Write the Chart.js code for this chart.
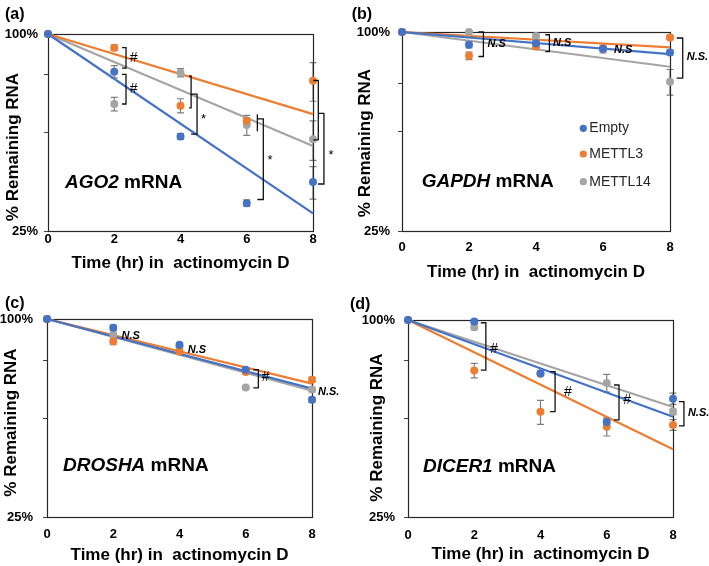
<!DOCTYPE html>
<html><head><meta charset="utf-8">
<script src="https://cdn.jsdelivr.net/npm/chart.js@4/dist/chart.umd.min.js"></script>
<style>
html,body{margin:0;padding:0;background:#fff;}
#wrap{position:relative;width:709px;height:566px;overflow:hidden;background:#fff;}
canvas{position:absolute;display:block;}
</style></head><body>
<div id="wrap">
<canvas id="ca" width="345" height="283" style="left:0;top:0"></canvas>
<canvas id="cb" width="364" height="283" style="left:345px;top:0"></canvas>
<canvas id="cc" width="345" height="283" style="left:0;top:283px"></canvas>
<canvas id="cd" width="364" height="283" style="left:345px;top:283px"></canvas>
</div>
<script>
// ---------- data ----------
const times = [0, 2, 4, 6, 8];
const xTicks = [0, 2, 4, 6, 8];
const seriesNames = ['Empty', 'METTL3', 'METTL14'];
const yTicksStd = [25, 50, 75, 100];
const yTicksGapdh = [25, 50, 70, 100];
const yLabelled = [25, 100];
const xTitle = 'Time (hr) in  actinomycin D';
const yTitle = '% Remaining RNA';

// (a) AGO2
const ago2Empty   = [100, 76.7, 48.6, 30.4, 35.3];
const ago2Mettl3  = [100, 90.8, 60.4, 54.3, 72.0];
const ago2Mettl14 = [100, 61.1, 76.2, 52.7, 47.7];
const ago2EmptyErr   = [0, 3.3, 1.0, 0.7, 4.0];
const ago2Mettl3Err  = [0, 1.9, 3.0, 1.0, 9.7];
const ago2Mettl14Err = [0, 2.9, 2.2, 3.7, 6.6];
const ago2TrendStart = [100, 100, 100];
const ago2TrendEnd   = [28.3, 56.9, 45.5];

// (b) GAPDH
const gapdhEmpty   = [100, 91.5, 92.5, 89.0, 86.7];
const gapdhMettl3  = [100, 84.7, 90.4, 89.5, 96.3];
const gapdhMettl14 = [100, 100, 97.3, 88.4, 70.7];
const gapdhEmptyErr   = [0, 2.0, 1.0, 1.0, 1.5];
const gapdhMettl3Err  = [0, 2.2, 1.5, 1.0, 1.5];
const gapdhMettl14Err = [0, 0.8, 0.8, 2.0, 6.3];
const gapdhTrendStart = [100, 100, 100];
const gapdhTrendEnd   = [85.7, 89.8, 78.5];

// (c) DROSHA
const droshaEmpty   = [100, 94.0, 83.5, 70.1, 56.8];
const droshaMettl3  = [100, 85.5, 79.7, 69.0, 65.4];
const droshaMettl14 = [100, 89.6, 82.2, 61.9, 61.0];
const droshaEmptyErr   = [0, 1.8, 1.0, 1.0, 1.0];
const droshaMettl3Err  = [0, 2.0, 1.5, 1.0, 1.2];
const droshaMettl14Err = [0, 1.0, 1.5, 0.5, 1.0];
const droshaTrendStart = [100, 100, 100];
const droshaTrendEnd   = [61.4, 63.6, 60.5];

// (d) DICER1
const dicerEmpty   = [100, 99.0, 68.8, 48.8, 57.5];
const dicerMettl3  = [100, 70.1, 52.4, 47.2, 47.8];
const dicerMettl14 = [100, 95.0, 68.4, 64.2, 52.4];
const dicerEmptyErr   = [0, 1.0, 1.0, 1.0, 2.3];
const dicerMettl3Err  = [0, 3.6, 4.4, 3.0, 1.8];
const dicerMettl14Err = [0, 1.5, 1.0, 4.0, 1.0];
const dicerTrendStart = [100, 100, 100];
const dicerTrendEnd   = [50.6, 40.3, 54.2];

// ---------- styles / layout ----------
const colors = ['#4472C4', '#ED7D31', '#A5A5A5'];
const FONT = "'Liberation Sans', Arial, Helvetica, sans-serif";
Chart.defaults.font.family = FONT;

const panels = [
  { id:'ca', W:345, H:283, area:{l:48,t:34,r:313,b:231},
    values:[ago2Empty, ago2Mettl3, ago2Mettl14], errors:[ago2EmptyErr, ago2Mettl3Err, ago2Mettl14Err],
    trendStart:ago2TrendStart, trendEnd:ago2TrendEnd, yTicks:yTicksStd,
    xTickPad:1, xTitlePad:9, yTickPad:6,
    label:{text:'(a)', x:5, y:15}, gene:{it:'AGO2', rest:' mRNA', x:65, y:183}, yT:{x:13, y:147},
    brackets:[
      {x:2.355, y1:90.8, y2:78.6, tick:4}, {x:2.355, y1:75.3, y2:61.1, tick:4},
      {x:4.32, y1:74.4, y2:59.5, tick:2}, {x:4.5, y1:65.5, y2:49.4, tick:6},
      {x:6.32, y1:56.9, y2:50.4, tick:0}, {x:6.5, y1:55.0, y2:31.2, tick:6},
      {x:8.16, y1:72.1, y2:47.5, tick:5}, {x:8.33, y1:57.2, y2:34.8, tick:6}
    ],
    notes:[
      {t:'#', x:2.47, y:84.3, kind:'hash'}, {t:'#', x:2.47, y:67.9, kind:'hash'},
      {t:'*', x:4.62, y:55.9, kind:'star'}, {t:'*', x:6.63, y:41.9, kind:'star'}, {t:'*', x:8.47, y:43.4, kind:'star'}
    ], legend:null },
  { id:'cb', W:364, H:283, area:{l:57,t:32,r:325,b:231},
    values:[gapdhEmpty, gapdhMettl3, gapdhMettl14], errors:[gapdhEmptyErr, gapdhMettl3Err, gapdhMettl14Err],
    trendStart:gapdhTrendStart, trendEnd:gapdhTrendEnd, yTicks:yTicksGapdh,
    xTickPad:9, xTitlePad:0, yTickPad:8,
    label:{text:'(b)', x:6.7, y:15}, gene:{it:'GAPDH', rest:' mRNA', x:76.7, y:182}, yT:{x:20.8, y:143},
    brackets:[
      {x:2.43, y1:100, y2:84.3, tick:5}, {x:4.4, y1:98.1, y2:87.3, tick:4},
      {x:8.38, y1:95.9, y2:72.5, tick:6}
    ],
    notes:[
      {t:'N.S', x:2.55, y:92.1, kind:'ns'}, {t:'N.S', x:4.51, y:92.8, kind:'ns'},
      {t:'N.S', x:6.33, y:88.4, kind:'ns'}, {t:'N.S.', x:8.5, y:84.0, kind:'ns'}
    ],
    legend:{dotX:238.3, textX:244.3, ys:[128.3, 154, 181.7]} },
  { id:'cc', W:345, H:283, area:{l:47,t:36,r:312,b:234},
    values:[droshaEmpty, droshaMettl3, droshaMettl14], errors:[droshaEmptyErr, droshaMettl3Err, droshaMettl14Err],
    trendStart:droshaTrendStart, trendEnd:droshaTrendEnd, yTicks:yTicksStd,
    xTickPad:10, xTitlePad:0, yTickPad:10,
    label:{text:'(c)', x:5, y:20.5}, gene:{it:'DROSHA', rest:' mRNA', x:63, y:183}, yT:{x:11, y:139.5},
    brackets:[ {x:6.38, y1:70.1, y2:61.7, tick:5} ],
    notes:[
      {t:'N.S', x:2.25, y:88.5, kind:'ns'}, {t:'N.S', x:4.25, y:80.6, kind:'ns'},
      {t:'#', x:6.48, y:66.5, kind:'hash'}, {t:'N.S.', x:8.18, y:60.2, kind:'ns'}
    ], legend:null },
  { id:'cd', W:364, H:283, area:{l:63,t:37,r:328,b:234},
    values:[dicerEmpty, dicerMettl3, dicerMettl14], errors:[dicerEmptyErr, dicerMettl3Err, dicerMettl14Err],
    trendStart:dicerTrendStart, trendEnd:dicerTrendEnd, yTicks:yTicksStd,
    xTickPad:11, xTitlePad:1, yTickPad:9,
    label:{text:'(d)', x:5, y:22}, gene:{it:'DICER1', rest:' mRNA', x:78, y:184}, yT:{x:32.3, y:144.5},
    brackets:[
      {x:2.35, y1:98.1, y2:70.3, tick:5}, {x:4.44, y1:69.5, y2:52.5, tick:5},
      {x:6.37, y1:63.3, y2:49.5, tick:5}, {x:8.33, y1:56.3, y2:47.5, tick:5}
    ],
    notes:[
      {t:'#', x:2.48, y:81.4, kind:'hash'}, {t:'#', x:4.71, y:60.4, kind:'hash'},
      {t:'#', x:6.5, y:57.0, kind:'hash'}, {t:'N.S.', x:8.45, y:51.9, kind:'ns'}
    ], legend:null }
];

function makeDecor(P) {
  return {
    id: 'decor',
    beforeDatasetsDraw(chart) {
      const ctx = chart.ctx, a = chart.chartArea;
      const xs = chart.scales.x, ys = chart.scales.y;
      ctx.save();
      // error bars (under the frame and the markers)
      ctx.strokeStyle = '#7f7f7f'; ctx.lineWidth = 1.2;
      chart.data.datasets.forEach(ds => {
        if (!ds.errors) return;
        ds.data.forEach((p, i) => {
          const e = ds.errors[i]; if (!e) return;
          const px = xs.getPixelForValue(p.x);
          const top = ys.getPixelForValue(p.y + e), bot = ys.getPixelForValue(p.y - e);
          ctx.beginPath();
          ctx.moveTo(px, top); ctx.lineTo(px, bot);
          ctx.moveTo(px - 3.5, top); ctx.lineTo(px + 3.5, top);
          ctx.moveTo(px - 3.5, bot); ctx.lineTo(px + 3.5, bot);
          ctx.stroke();
        });
      });
      // frame
      ctx.strokeStyle = '#262626'; ctx.lineWidth = 1.2;
      ctx.strokeRect(Math.round(a.left) + 0.5, Math.round(a.top) + 0.5,
                     Math.round(a.right - a.left), Math.round(a.bottom - a.top));
      ctx.restore();
    },
    afterDraw(chart) {
      const ctx = chart.ctx;
      const xs = chart.scales.x, ys = chart.scales.y;
      ctx.save();
      ctx.fillStyle = '#000'; ctx.strokeStyle = '#000';
      // panel label
      ctx.font = 'bold 16px ' + FONT; ctx.textAlign = 'left'; ctx.textBaseline = 'middle';
      ctx.fillText(P.label.text, P.label.x, P.label.y);
      // gene label
      ctx.font = 'italic bold 19px ' + FONT;
      ctx.fillText(P.gene.it, P.gene.x, P.gene.y);
      const w = ctx.measureText(P.gene.it).width;
      ctx.font = 'bold 19px ' + FONT;
      ctx.fillText(P.gene.rest, P.gene.x + w, P.gene.y);
      // y title
      ctx.save();
      ctx.translate(P.yT.x, P.yT.y); ctx.rotate(-Math.PI / 2);
      ctx.textAlign = 'center'; ctx.font = 'bold 17px ' + FONT;
      ctx.fillText(yTitle, 0, 0);
      ctx.restore();
      // brackets
      ctx.lineWidth = 1.3; ctx.strokeStyle = '#111';
      P.brackets.forEach(b => {
        const x = xs.getPixelForValue(b.x);
        const y1 = ys.getPixelForValue(b.y1), y2 = ys.getPixelForValue(b.y2);
        ctx.beginPath();
        ctx.moveTo(x - b.tick, y1); ctx.lineTo(x, y1); ctx.lineTo(x, y2); ctx.lineTo(x - b.tick, y2);
        ctx.stroke();
      });
      // notes
      ctx.textAlign = 'left';
      P.notes.forEach(n => {
        const x = xs.getPixelForValue(n.x), y = ys.getPixelForValue(n.y);
        if (n.kind === 'ns') { ctx.font = 'italic bold 11px ' + FONT; ctx.textBaseline = 'middle'; ctx.fillText(n.t, x, y); }
        else if (n.kind === 'hash') { ctx.font = '14px ' + FONT; ctx.textBaseline = 'middle'; ctx.fillText(n.t, x, y); }
        else { ctx.font = '13px ' + FONT; ctx.textBaseline = 'middle'; ctx.fillText(n.t, x, y + 3); }
      });
      // legend
      if (P.legend) {
        const L = P.legend;
        ctx.font = '14px ' + FONT; ctx.textBaseline = 'middle';
        seriesNames.forEach((name, k) => {
          ctx.beginPath(); ctx.fillStyle = colors[k];
          ctx.arc(L.dotX, L.ys[k], 3.6, 0, Math.PI * 2); ctx.fill();
          ctx.fillStyle = '#262626';
          ctx.fillText(name, L.textX, L.ys[k]);
        });
      }
      ctx.restore();
    }
  };
}

function buildChart(P) {
  const datasets = [];
  seriesNames.forEach((name, k) => {
    datasets.push({
      type: 'scatter', label: name,
      data: times.map((t, i) => ({x: t, y: P.values[k][i]})),
      errors: P.errors[k],
      backgroundColor: colors[k], borderColor: colors[k],
      pointRadius: 4, pointHoverRadius: 4, borderWidth: 0, clip: false, order: 0
    });
  });
  seriesNames.forEach((name, k) => {
    datasets.push({
      type: 'line', label: name + ' trend',
      data: [{x: times[0], y: P.trendStart[k]}, {x: times[times.length - 1], y: P.trendEnd[k]}],
      borderColor: colors[k], backgroundColor: colors[k], borderWidth: 2.2,
      pointRadius: 0, fill: false, clip: false, order: 1
    });
  });
  const A = P.area;
  return new Chart(document.getElementById(P.id), {
    data: { datasets },
    options: {
      responsive: false, animation: false, events: [],
      layout: { padding: { top: A.t, left: 0, right: P.W - A.r, bottom: 0 } },
      plugins: { legend: { display: false }, tooltip: { enabled: false } },
      scales: {
        x: {
          type: 'linear', min: 0, max: 8,
          afterBuildTicks: s => { s.ticks = xTicks.map(v => ({value: v})); },
          ticks: { font: { size: 13, weight: 'bold' }, color: '#000', padding: P.xTickPad, maxRotation: 0 },
          grid: { display: false, drawTicks: false }, border: { display: false },
          title: { display: true, text: xTitle, font: { size: 17, weight: 'bold' }, color: '#000',
                   padding: { top: 0, bottom: P.xTitlePad } },
          afterFit: s => { s.height = P.H - A.b; }
        },
        y: {
          type: 'logarithmic', min: 25, max: 100,
          afterBuildTicks: s => { s.ticks = P.yTicks.map(v => ({value: v})); },
          ticks: { callback: v => yLabelled.includes(v) ? v + '%' : '',
                   font: { size: 13, weight: 'bold' }, color: '#000', padding: P.yTickPad, autoSkip: false },
          grid: { drawOnChartArea: false, drawTicks: true, tickLength: 4, color: '#404040', lineWidth: 1 },
          border: { display: false },
          afterFit: s => { s.width = A.l; }
        }
      }
    },
    plugins: [makeDecor(P)]
  });
}

panels.forEach(buildChart);
</script>
</body></html>
